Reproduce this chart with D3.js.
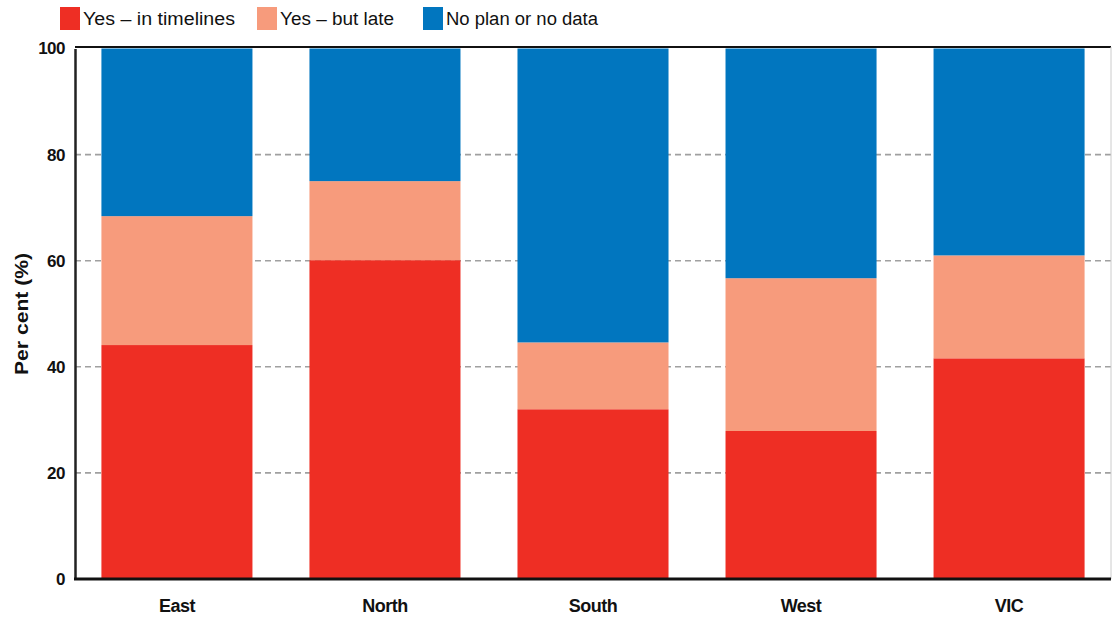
<!DOCTYPE html>
<html><head><meta charset="utf-8">
<script src="https://cdn.jsdelivr.net/npm/d3@7"></script>
<style>body{margin:0;background:#fff;} text{font-family:"Liberation Sans",Arial,sans-serif;}</style>
</head><body><svg id="c" width="1112" height="619"></svg>
<script>
const categories = ["East","North","South","West","VIC"];
const seriesNames = ["Yes – in timelines","Yes – but late","No plan or no data"];
const inTimelines = [44.1, 60.1, 32.0, 27.9, 41.6];
const butLate = [24.3, 14.9, 12.6, 28.8, 19.4];
const noPlan = [31.6, 25.0, 55.4, 43.3, 39.0];
const yTicks = [0,20,40,60,80,100];
const colors = ["#EE2E24","#F79B7C","#0176BF"];

const svg = d3.select("#c");
const L=75, R=1111, T=48.5, B=579;
const x = d3.scaleBand().domain(categories).range([L,R]).paddingInner(0.274).paddingOuter(0.127);
const y = d3.scaleLinear().domain([0,100]).range([B,T]);

const rows = categories.map((c,i)=>({cat:c, s0:inTimelines[i], s1:butLate[i], s2:noPlan[i]}));
const stack = d3.stack().keys(["s0","s1","s2"])(rows);

// gridlines
svg.append("g").selectAll("line").data(yTicks.filter(t=>t>0&&t<100)).join("line")
  .attr("x1",L).attr("x2",R).attr("y1",d=>y(d)).attr("y2",d=>y(d))
  .attr("stroke","#a0a0a0").attr("stroke-width",1.6).attr("stroke-dasharray","6,4");

// bars
svg.append("g").selectAll("g").data(stack).join("g").attr("fill",(d,i)=>colors[i])
  .selectAll("rect").data(d=>d).join("rect")
  .attr("x",d=>x(d.data.cat)).attr("width",x.bandwidth())
  .attr("y",d=>y(d[1])).attr("height",d=>y(d[0])-y(d[1]));

// frame
svg.append("line").attr("x1",L).attr("x2",R).attr("y1",47).attr("y2",47).attr("stroke","#111").attr("stroke-width",2);
svg.append("line").attr("x1",R).attr("x2",R).attr("y1",47).attr("y2",B).attr("stroke","#ccc").attr("stroke-width",1);

// y axis
const ya = svg.append("g").attr("transform",`translate(${L},0)`)
  .call(d3.axisLeft(y).tickValues(yTicks).tickSize(0).tickPadding(10));
ya.select(".domain").attr("stroke","#222").attr("stroke-width",2.5);
ya.selectAll("text").attr("font-size",17).attr("font-weight","bold").attr("fill","#111")
  .attr("font-family","Liberation Sans, Arial, sans-serif").attr("letter-spacing","-0.5");

// x axis
const xa = svg.append("g").attr("transform",`translate(0,${B})`)
  .call(d3.axisBottom(x).tickSize(0).tickPadding(20));
xa.select(".domain").attr("stroke","#111").attr("stroke-width",3).attr("d",`M${L-1},0H${R}`);
xa.selectAll("text").attr("font-size",18).attr("font-weight","bold").attr("fill","#111")
  .attr("font-family","Liberation Sans, Arial, sans-serif").attr("letter-spacing","-0.5");

// y title
svg.append("text").attr("transform","translate(28,314) rotate(-90)").attr("text-anchor","middle")
  .attr("font-size",19).attr("font-weight","bold").attr("fill","#111")
  .attr("textLength",122).attr("lengthAdjust","spacingAndGlyphs").text("Per cent (%)");

// legend
const legX = [60,257,423];
const legW = [152,114,152];
const lg = svg.append("g").selectAll("g").data(seriesNames).join("g")
  .attr("transform",(d,i)=>`translate(${legX[i]},7)`);
lg.append("rect").attr("width",20).attr("height",23).attr("fill",(d,i)=>colors[i]);
lg.append("text").attr("x",23).attr("y",18).attr("font-size",18).attr("fill","#111")
  .attr("textLength",(d,i)=>legW[i]).attr("lengthAdjust","spacingAndGlyphs").text(d=>d);
</script></body></html>
